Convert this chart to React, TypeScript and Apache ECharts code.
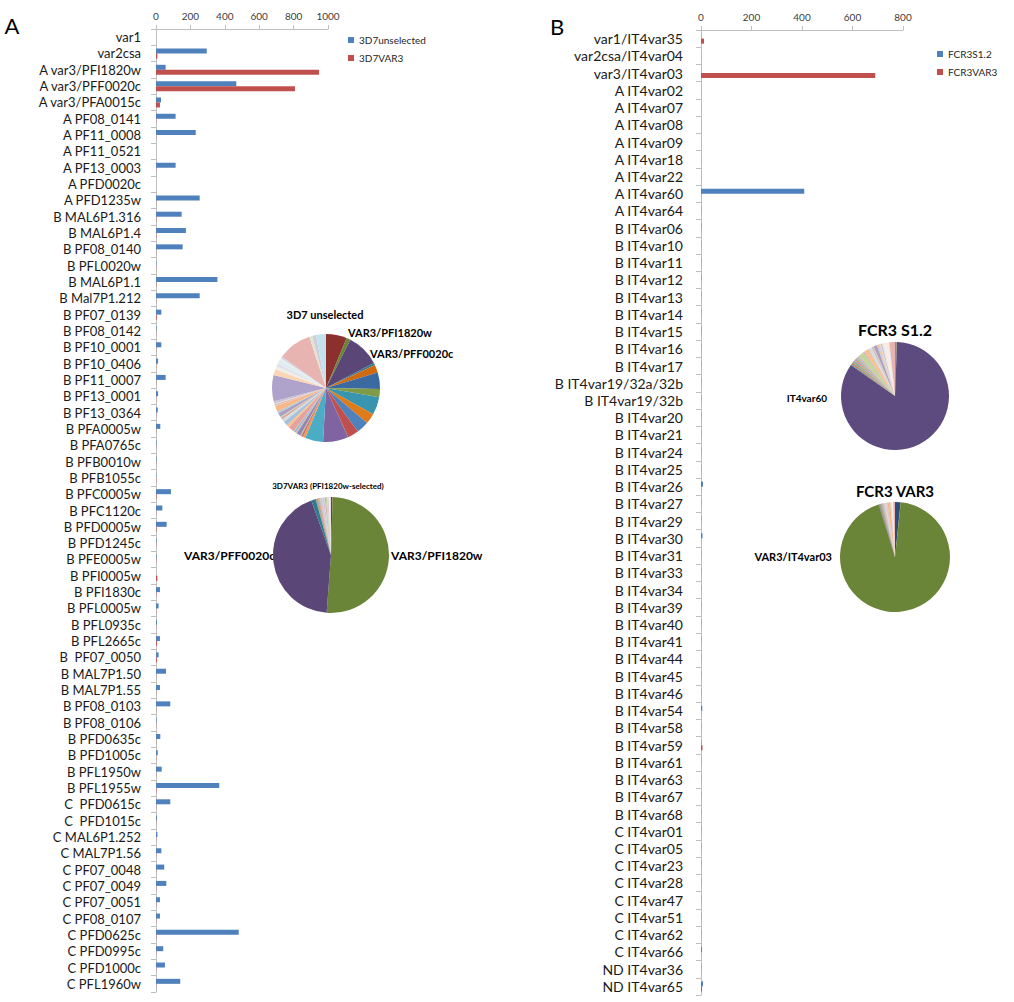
import React, { useEffect, useRef } from "react";
import * as echarts from "echarts";

const leftCategories = [
  "var1", "var2csa", "A var3/PFI1820w", "A var3/PFF0020c", "A var3/PFA0015c",
  "A PF08_0141", "A PF11_0008", "A PF11_0521", "A PF13_0003", "A PFD0020c",
  "A PFD1235w", "B MAL6P1.316", "B MAL6P1.4", "B PF08_0140", "B PFL0020w",
  "B MAL6P1.1", "B Mal7P1.212", "B PF07_0139", "B PF08_0142", "B PF10_0001",
  "B PF10_0406", "B PF11_0007", "B PF13_0001", "B PF13_0364", "B PFA0005w",
  "B PFA0765c", "B PFB0010w", "B PFB1055c", "B PFC0005w", "B PFC1120c",
  "B PFD0005w", "B PFD1245c", "B PFE0005w", "B PFI0005w", "B PFI1830c",
  "B PFL0005w", "B PFL0935c", "B PFL2665c", "B  PF07_0050", "B MAL7P1.50",
  "B MAL7P1.55", "B PF08_0103", "B PF08_0106", "B PFD0635c", "B PFD1005c",
  "B PFL1950w", "B PFL1955w", "C  PFD0615c", "C  PFD1015c", "C MAL6P1.252",
  "C MAL7P1.56", "C PF07_0048", "C PF07_0049", "C PF07_0051", "C PF08_0107",
  "C PFD0625c", "C PFD0995c", "C PFD1000c", "C PFL1960w",
];

const unselected3D7 = [
  0, 295, 56, 467, 29, 114, 231, 0, 114, 0,
  254, 149, 174, 155, 2, 357, 254, 31, 3, 31,
  12, 56, 12, 10, 25, 3, 3, 2, 87, 37,
  62, 3, 3, 0, 23, 15, 5, 23, 15, 58,
  23, 83, 3, 25, 10, 33, 368, 83, 5, 8,
  31, 48, 60, 23, 23, 481, 42, 52, 141,
];

const var3_3D7 = [
  0, 8, 948, 808, 23, 1, 1, 0, 1, 0,
  1, 2, 2, 1, 1, 2, 1, 4, 1, 1,
  1, 1, 1, 1, 1, 1, 1, 1, 3, 1,
  3, 1, 1, 8, 2, 1, 1, 5, 5, 1,
  1, 1, 1, 1, 1, 1, 2, 1, 1, 1,
  1, 1, 1, 1, 1, 2, 1, 1, 1,
];

const rightCategories = [
  "var1/IT4var35", "var2csa/IT4var04", "var3/IT4var03", "A IT4var02", "A IT4var07",
  "A IT4var08", "A IT4var09", "A IT4var18", "A IT4var22", "A IT4var60",
  "A IT4var64", "B IT4var06", "B IT4var10", "B IT4var11", "B IT4var12",
  "B IT4var13", "B IT4var14", "B IT4var15", "B IT4var16", "B IT4var17",
  "B IT4var19/32a/32b", "B IT4var19/32b", "B IT4var20", "B IT4var21", "B IT4var24",
  "B IT4var25", "B IT4var26", "B IT4var27", "B IT4var29", "B IT4var30",
  "B IT4var31", "B IT4var33", "B IT4var34", "B IT4var39", "B IT4var40",
  "B IT4var41", "B IT4var44", "B IT4var45", "B IT4var46", "B IT4var54",
  "B IT4var58", "B IT4var59", "B IT4var61", "B IT4var63", "B IT4var67",
  "B IT4var68", "C IT4var01", "C IT4var05", "C IT4var23", "C IT4var28",
  "C IT4var47", "C IT4var51", "C IT4var62", "C IT4var66", "ND IT4var36",
  "ND IT4var65",
];

const fcr3S12 = [
  0.5, 0.3, 0.3, 0.3, 0.3, 0.3, 0.3, 0.3, 0.3, 409,
  1, 1.5, 1, 1, 1.5, 1, 1, 1.5, 1, 1,
  1, 1, 1, 1, 1, 1, 8, 1, 1, 6,
  1, 1, 1, 1, 1, 1, 1, 1, 1, 5,
  1, 1.5, 1, 1, 1, 1, 1, 1, 1, 1,
  1, 1, 1, 4, 1, 8,
];

const fcr3Var3 = [
  12, 0.5, 690, 0.5, 0.5, 0.5, 0.5, 0.5, 0.5, 0.5,
  0.5, 0.5, 0.5, 0.5, 0.5, 0.5, 0.5, 0.5, 0.5, 0.5,
  0.5, 0.5, 0.5, 0.5, 0.5, 0.5, 0.5, 0.5, 0.5, 0.5,
  0.5, 0.5, 0.5, 0.5, 0.5, 0.5, 0.5, 0.5, 0.5, 0.5,
  0.5, 6, 0.5, 0.5, 0.5, 0.5, 0.5, 0.5, 0.5, 0.5,
  0.5, 0.5, 0.5, 0.5, 0.5, 4,
];

const BLUE = "#4F81BD";
const RED = "#C0504D";
const FONT = "Lato";

const shadeGroups = [
  ["#2C4D75", "#8B302D", "#6A8537", "#5A4677", "#2E7C90", "#D0690F"],
  ["#3B6AA0", "#A23F3C", "#7F9B45", "#5D4A7E", "#3895AD", "#E07B1C"],
  ["#4F81BD", "#C0504D", "#9BBB59", "#8064A2", "#4BACC6", "#F79646"],
  ["#7297C9", "#CC7472", "#AFC97A", "#9983B5", "#6FBDD1", "#F9AB6B"],
  ["#95B3D7", "#D99694", "#C3D69B", "#B3A2C7", "#E3A29B", "#FAC090"],
  ["#A7C0DE", "#E6B9B8", "#D7E4BD", "#CCC1DA", "#B7DEE8", "#FCD5B5"],
  ["#8EA9CF", "#DA9C9A", "#C5D89F", "#AE9EC4", "#A0CFDC", "#F8B98A"],
  ["#B9CDE5", "#E6B9B8", "#D7E4BD", "#CCC1DA", "#AFA3CB", "#FCD5B5"],
  ["#DCE6F2", "#F2DCDB", "#EBF1DE", "#E6E0EC", "#DBEEF4", "#FDEADA"],
  ["#C6D9F1", "#E8B4B2", "#DDE8C6", "#D3CAE2", "#C2E3EC", "#FBD4B4"],
];
const pieColor = (i: number) => shadeGroups[Math.floor(i / 6) % shadeGroups.length][i % 6];

const pieData = (cats: string[], vals: number[]) =>
  cats.map((n, i) => ({ name: n, value: vals[i], itemStyle: { color: pieColor(i) } }));

const txt = (text: string, x: number, y: number, font: string, align = "center") => ({
  type: "text",
  x,
  y,
  silent: true,
  style: { text, font, fill: "#000", textAlign: align, textVerticalAlign: "middle" },
});

export default function App() {
  const ref = useRef<HTMLDivElement>(null);
  useEffect(() => {
    if (!ref.current) return;
    const chart = echarts.init(ref.current, undefined, { renderer: "svg" });
    const axisGray = "#BFBFBF";
    const xAxisBase = {
      type: "value",
      position: "top",
      min: 0,
      interval: 200,
      axisLine: { show: true, lineStyle: { color: axisGray } },
      axisTick: { show: true, length: 4, lineStyle: { color: axisGray } },
      splitLine: { show: false },
      axisLabel: {
        fontSize: 10,
        color: "#404040",
        margin: 8,
        fontFamily: FONT,
        formatter: (v: number) => String(v),
      },
    };
    const yAxisBase = {
      type: "category",
      inverse: true,
      axisLine: { show: true, lineStyle: { color: axisGray } },
      axisTick: { show: true, length: 5, lineStyle: { color: axisGray } },
      splitLine: { show: false },
    };
    const pieBase = {
      type: "pie",
      startAngle: 90,
      clockwise: true,
      label: { show: false },
      labelLine: { show: false },
      emphasis: { disabled: true },
      itemStyle: { borderWidth: 0 },
      silent: true,
    };
    chart.setOption({
      animation: false,
      backgroundColor: "#fff",
      textStyle: { fontFamily: FONT },
      grid: [
        { left: 156, top: 29, width: 172, height: 963 },
        { left: 701, top: 30, width: 202, height: 965 },
      ],
      xAxis: [
        { ...xAxisBase, gridIndex: 0, max: 1000 },
        { ...xAxisBase, gridIndex: 1, max: 800 },
      ],
      yAxis: [
        {
          ...yAxisBase,
          gridIndex: 0,
          data: leftCategories,
          axisLabel: { interval: 0, fontSize: 13, color: "#1a1a1a", margin: 15, fontFamily: FONT },
        },
        {
          ...yAxisBase,
          gridIndex: 1,
          data: rightCategories,
          axisLabel: { interval: 0, fontSize: 14, color: "#1a1a1a", margin: 18, fontFamily: FONT },
        },
      ],
      legend: [
        {
          data: ["3D7unselected", "3D7VAR3"],
          orient: "vertical",
          left: 343,
          top: 29,
          icon: "rect",
          itemWidth: 6,
          itemHeight: 6,
          itemGap: 6,
          selectedMode: false,
          textStyle: { fontSize: 10, color: "#262626", fontFamily: FONT, lineHeight: 12 },
        },
        {
          data: ["FCR3S1.2", "FCR3VAR3"],
          orient: "vertical",
          left: 932,
          top: 43,
          icon: "rect",
          itemWidth: 6,
          itemHeight: 6,
          itemGap: 6,
          selectedMode: false,
          textStyle: { fontSize: 10, color: "#262626", fontFamily: FONT, lineHeight: 12 },
        },
      ],
      series: [
        {
          type: "bar", name: "3D7unselected", xAxisIndex: 0, yAxisIndex: 0,
          data: unselected3D7, barWidth: 5, barGap: "0%", itemStyle: { color: BLUE },
        },
        {
          type: "bar", name: "3D7VAR3", xAxisIndex: 0, yAxisIndex: 0,
          data: var3_3D7, barWidth: 5, barGap: "0%", itemStyle: { color: RED },
        },
        {
          type: "bar", name: "FCR3S1.2", xAxisIndex: 1, yAxisIndex: 1,
          data: fcr3S12, barWidth: 5, barGap: "0%", itemStyle: { color: BLUE },
        },
        {
          type: "bar", name: "FCR3VAR3", xAxisIndex: 1, yAxisIndex: 1,
          data: fcr3Var3, barWidth: 5, barGap: "0%", itemStyle: { color: RED },
        },
        { ...pieBase, name: "3D7 unselected", center: [326, 388], radius: 54, data: pieData(leftCategories, unselected3D7) },
        { ...pieBase, name: "3D7VAR3 pie", center: [331, 555], radius: 58, data: pieData(leftCategories, var3_3D7) },
        { ...pieBase, name: "FCR3 S1.2", center: [895, 396], radius: 54, data: pieData(rightCategories, fcr3S12) },
        { ...pieBase, name: "FCR3 VAR3", center: [895, 557], radius: 55, data: pieData(rightCategories, fcr3Var3) },
      ],
      graphic: [
        txt("A", 12, 25, "22px " + FONT),
        txt("B", 557, 26, "22px " + FONT),
        txt("3D7 unselected", 325, 314, "bold 11px " + FONT),
        txt("VAR3/PFI1820w", 348, 332, "bold 11px " + FONT, "left"),
        txt("VAR3/PFF0020c", 370, 353, "bold 11px " + FONT, "left"),
        txt("3D7VAR3 (PFI1820w-selected)", 328, 486, "bold 8px " + FONT),
        txt("VAR3/PFF0020c", 275, 555, "bold 12px " + FONT, "right"),
        txt("VAR3/PFI1820w", 391, 555, "bold 12px " + FONT, "left"),
        txt("FCR3 S1.2", 895, 329, "bold 16px " + FONT),
        txt("IT4var60", 827, 398, "bold 10px " + FONT, "right"),
        txt("FCR3 VAR3", 895, 491, "bold 15px " + FONT),
        txt("VAR3/IT4var03", 832, 556, "bold 11px " + FONT, "right"),
      ],
    });
    return () => chart.dispose();
  }, []);
  return (
    <div
      ref={ref}
      style={{ position: "fixed", left: 0, top: 0, width: 1014, height: 1002, background: "#fff" }}
    />
  );
}
